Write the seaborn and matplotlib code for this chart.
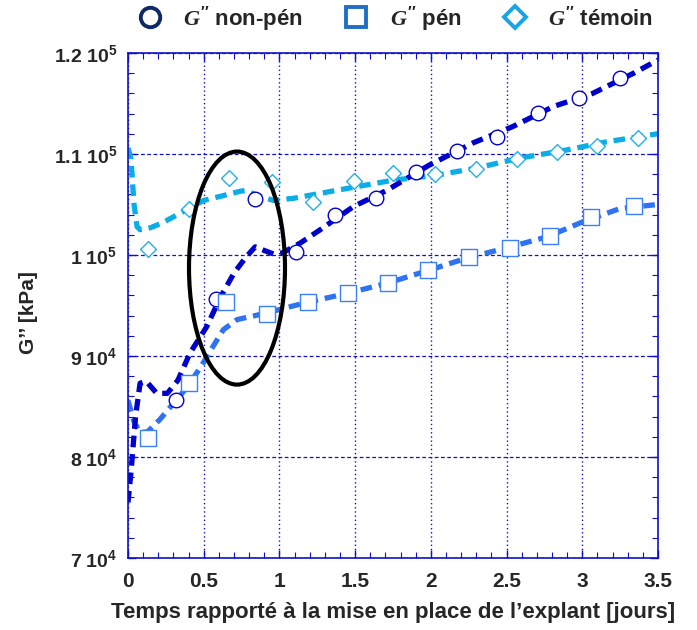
import matplotlib
matplotlib.use("Agg")
import matplotlib.pyplot as plt
import numpy as np
import seaborn as sns
from matplotlib.lines import Line2D
from matplotlib.patches import Ellipse
from matplotlib.ticker import MultipleLocator

sns.set_style("ticks")
plt.rcParams['font.family'] = ['Liberation Sans', 'DejaVu Sans']
plt.rcParams['font.weight'] = 'bold'
plt.rcParams['mathtext.fontset'] = 'custom'
plt.rcParams['mathtext.rm'] = 'Liberation Sans:bold'
plt.rcParams['mathtext.bf'] = 'Liberation Sans:bold'
plt.rcParams['mathtext.it'] = 'Liberation Serif:italic:bold'

# courbes continues
x_nonpen_line = [0, 0.02, 0.05, 0.08, 0.12, 0.19, 0.26, 0.33, 0.41, 0.52, 0.61, 0.70, 0.78,
                 0.84, 0.89, 0.96, 1.02, 1.14, 1.27, 1.49, 1.71, 1.99, 2.28, 2.54, 2.81,
                 3.07, 3.34, 3.5]
y_nonpen_line = [75500, 78500, 84000, 87300, 87500, 86300, 86300, 87600, 90300, 92900, 95800,
                 98200, 99800, 100800, 100500, 100100, 100200, 101200, 102500, 104800,
                 106400, 108900, 111100, 112700, 114700, 116000, 118000, 119300]

x_pen_line = [0, 0.04, 0.08, 0.13, 0.21, 0.30, 0.39, 0.48, 0.56, 0.63, 0.72, 0.87, 1.0, 1.18,
              1.45, 1.71, 1.99, 2.24, 2.50, 2.77, 2.99, 3.25, 3.5]
y_pen_line = [85600, 83500, 82400, 82500, 83700, 85300, 86900, 88900, 90900, 92600, 93600,
              94100, 94600, 95300, 96200, 97200, 98500, 99700, 100700, 101800, 103200,
              104600, 105000]

x_temoin_line = [0, 0.02, 0.04, 0.06, 0.08, 0.15, 0.23, 0.39, 0.50, 0.61, 0.74, 0.78, 0.85,
                 0.96, 1.09, 1.27, 1.49, 1.75, 2.04, 2.30, 2.59, 2.90, 3.16, 3.5]
y_temoin_line = [110600, 109500, 105000, 102800, 102500, 102700, 103200, 104500, 105400,
                 105800, 106300, 106400, 105900, 105400, 105600, 106100, 106700, 107400,
                 107900, 108600, 109600, 110400, 111200, 112000]

# points mesurés
x_nonpen = [0.32, 0.58, 0.84, 1.11, 1.37, 1.64, 1.90, 2.17, 2.44, 2.71, 2.98, 3.25]
y_nonpen = [85600, 95600, 105500, 100300, 104000, 105600, 108200, 110300, 111700, 114100,
            115500, 117500]

x_pen = [0.13, 0.40, 0.65, 0.92, 1.19, 1.45, 1.72, 1.98, 2.25, 2.52, 2.79, 3.06, 3.34]
y_pen = [81900, 87300, 95300, 94200, 95300, 96200, 97200, 98500, 99800, 100700, 101900,
         103800, 104800]

x_temoin = [0.13, 0.40, 0.67, 0.95, 1.22, 1.49, 1.75, 2.03, 2.30, 2.57, 2.83, 3.10, 3.37]
y_temoin = [100600, 104500, 107600, 107200, 105200, 107300, 108100, 108000, 108500, 109500,
            110200, 110800, 111600]

y_ticks = [70000, 80000, 90000, 100000, 110000, 120000]
y_ticklabels = [r"$\mathbf{7\ 10^{4}}$", r"$\mathbf{8\ 10^{4}}$", r"$\mathbf{9\ 10^{4}}$",
                r"$\mathbf{1\ 10^{5}}$", r"$\mathbf{1.1\ 10^{5}}$", r"$\mathbf{1.2\ 10^{5}}$"]
x_ticks = [0, 0.5, 1, 1.5, 2, 2.5, 3, 3.5]
x_ticklabels = ['0', '0.5', '1', '1.5', '2', '2.5', '3', '3.5']

c_nonpen = '#0000cc'
c_pen = '#2f72f2'
c_temoin = '#0bade6'
frame = '#1010cc'

fig, ax = plt.subplots(figsize=(6.97, 6.3), dpi=100)
fig.subplots_adjust(left=0.1836, right=0.944, top=0.916, bottom=0.1143)

dash = (0, (2.2, 1.3))
sns.lineplot(x=x_temoin_line, y=y_temoin_line, color=c_temoin, lw=3.8, linestyle=dash,
             sort=False, ax=ax, zorder=2)
sns.lineplot(x=x_pen_line, y=y_pen_line, color=c_pen, lw=3.8, linestyle=dash,
             sort=False, ax=ax, zorder=2)
sns.lineplot(x=x_nonpen_line, y=y_nonpen_line, color=c_nonpen, lw=3.8, linestyle=dash,
             sort=False, ax=ax, zorder=2)

sns.scatterplot(x=x_nonpen, y=y_nonpen, marker='o', s=110, facecolor='white',
                edgecolor=c_nonpen, linewidth=1.0, ax=ax, zorder=4)
sns.scatterplot(x=x_pen, y=y_pen, marker='s', s=120, facecolor='white',
                edgecolor='#3d80f5', linewidth=1.0, ax=ax, zorder=4)
sns.scatterplot(x=x_temoin, y=y_temoin, marker='D', s=65, facecolor='white',
                edgecolor='#22b0e8', linewidth=1.0, ax=ax, zorder=4)

ax.add_patch(Ellipse((0.72, 98700), 0.634, 23070, fill=False, lw=3, color='black', zorder=5))

ax.set_xlim(0, 3.5)
ax.set_ylim(70000, 120000)
ax.set_xticks(x_ticks)
ax.set_xticklabels(x_ticklabels, fontsize=15, fontweight='bold')
ax.set_yticks(y_ticks)
ax.set_yticklabels(y_ticklabels, fontsize=14)
ax.xaxis.set_minor_locator(MultipleLocator(0.1))
ax.yaxis.set_minor_locator(MultipleLocator(2000))
ax.tick_params(which='both', direction='in', top=True, right=True, color=frame)
ax.tick_params(which='major', length=6, width=1)
ax.tick_params(which='minor', length=4, width=0.8)
ax.tick_params(axis='x', pad=10)
ax.tick_params(axis='y', pad=8)
for s in ax.spines.values():
    s.set_color(frame)
    s.set_linewidth(1.2)

ax.xaxis.grid(True, color=frame, linestyle=(0, (1, 2)), lw=1.0)
ax.yaxis.grid(True, color=frame, linestyle=(0, (3, 2)), lw=0.9)
ax.set_axisbelow(True)

ax.set_xlabel("Temps rapporté à la mise en place de l’explant [jours]", fontsize=16,
              fontweight='bold', labelpad=8)
ax.set_ylabel("G’’ [kPa]", fontsize=15, fontweight='bold')
ax.yaxis.set_label_coords(-0.17, 0.485)

handles = [
    Line2D([], [], marker='o', ls='none', ms=14, mfc='white', mec='#0d2a66', mew=2.8),
    Line2D([], [], marker='s', ls='none', ms=14, mfc='white', mec='#1f70c2', mew=2.8),
    Line2D([], [], marker='D', ls='none', ms=11, mfc='white', mec='#18a4e6', mew=2.8),
]
labels = [r"$G''$ non-pén", r"$G''$ pén", r"$G''$ témoin"]
fig.legend(handles, labels, loc='center', bbox_to_anchor=(0.56, 0.97), ncol=3, frameon=False,
           prop={'size': 16, 'weight': 'bold'}, handletextpad=0.5, columnspacing=1.4)

fig.savefig("out.png", dpi=100)
